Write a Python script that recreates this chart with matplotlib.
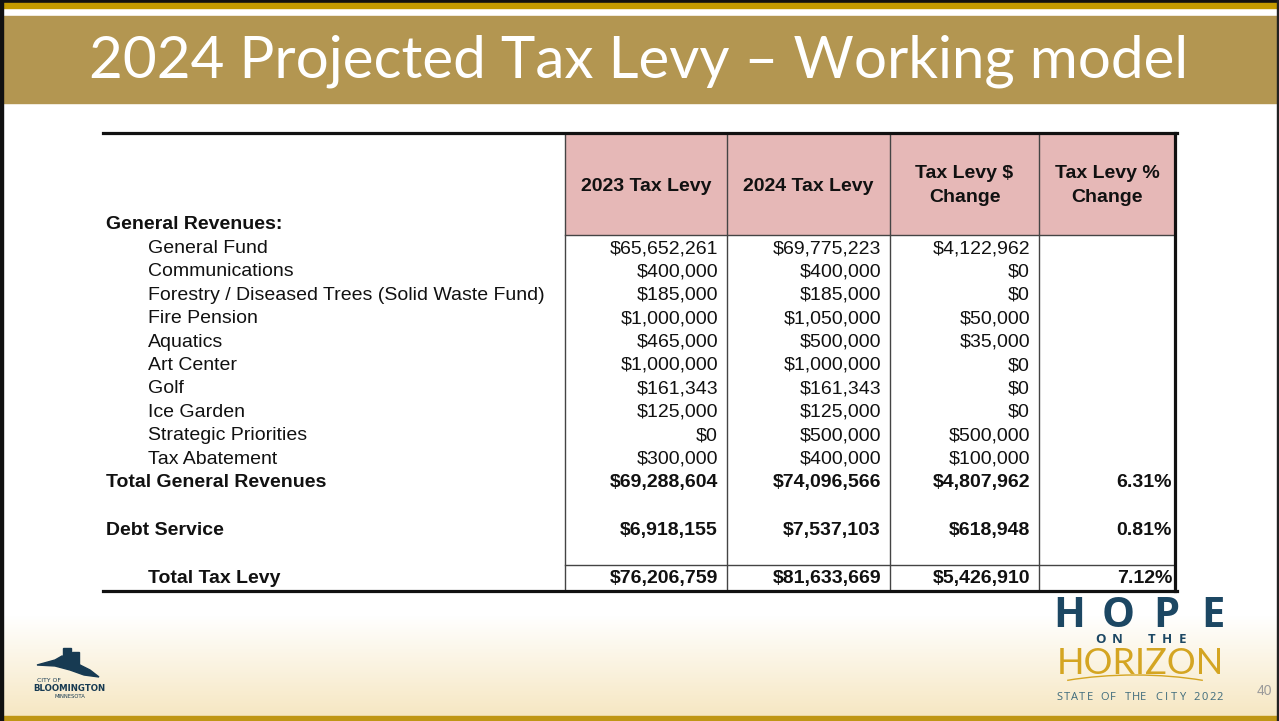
import numpy as np
import matplotlib.pyplot as plt
from matplotlib.patches import Rectangle, Polygon, Arc

# table contents
title = "2024 Projected Tax Levy \u2013 Working model"
col_headers = [["2023 Tax Levy"], ["2024 Tax Levy"], ["Tax Levy $", "Change"], ["Tax Levy %", "Change"]]
item_labels = ["General Fund", "Communications", "Forestry / Diseased Trees (Solid Waste Fund)",
               "Fire Pension", "Aquatics", "Art Center", "Golf", "Ice Garden",
               "Strategic Priorities", "Tax Abatement"]
levy_2023 = [65652261, 400000, 185000, 1000000, 465000, 1000000, 161343, 125000, 0, 300000]
levy_2024 = [69775223, 400000, 185000, 1050000, 500000, 1000000, 161343, 125000, 500000, 400000]
levy_change = [4122962, 0, 0, 50000, 35000, 0, 0, 0, 500000, 100000]

total_labels = ["Total General Revenues", "Debt Service", "Total Tax Levy"]
total_2023 = [69288604, 6918155, 76206759]
total_2024 = [74096566, 7537103, 81633669]
total_change = [4807962, 618948, 5426910]
total_pct = ["6.31%", "0.81%", "7.12%"]

W, H = 1279, 721
fig = plt.figure(figsize=(W / 100, H / 100), dpi=100)
ax = fig.add_axes([0, 0, 1, 1])
ax.set_xlim(0, W)
ax.set_ylim(H, 0)
ax.axis("off")

# slide background: white fading to cream at the bottom
grad = np.ones((H, 1, 3))
t = np.clip((np.arange(H) - 615) / (716 - 615), 0, 1)
cream = np.array([0.965, 0.905, 0.76])
grad[:, 0, :] = (1 - t)[:, None] * np.array([1, 1, 1]) + t[:, None] * cream
ax.imshow(grad, extent=[0, W, H, 0], aspect="auto", zorder=0)

# frame and title band
ax.add_patch(Rectangle((0, 0), W, 3, color="#111111", zorder=1))
ax.add_patch(Rectangle((0, 3), W, 5, color="#C49A00", zorder=1))
ax.add_patch(Rectangle((0, 16), W, 87, color="#B39651", zorder=1))
ax.add_patch(Rectangle((0, 716), W, 5, color="#BF9614", zorder=1))
ax.add_patch(Rectangle((0, 0), 3, H, color="#111111", zorder=2))
ax.add_patch(Rectangle((W - 2, 0), 2, H, color="#222222", zorder=2))
ax.text(89, 77, title, color="white", fontsize=42, family="Lato", va="baseline", ha="left")

# table geometry
col_x = [565, 727, 890, 1039, 1175]
right_x = [718, 881, 1030, 1172]
top_y, head_bot, bot_y = 133, 235, 591
row_base = [253 + 23.4 * i for i in range(len(item_labels))]
total_base = [487, 535, 583]
font = dict(family="Liberation Sans", fontsize=14, color="#111111", va="baseline")

ax.add_patch(Rectangle((col_x[0], top_y), col_x[-1] - col_x[0], head_bot - top_y,
                       facecolor="#E6B8B7", edgecolor="none", zorder=2))
for x in col_x[:-1]:
    ax.plot([x, x], [top_y, bot_y], color="#444444", lw=1.0, zorder=3)
ax.plot([col_x[-1], col_x[-1]], [top_y, bot_y], color="#111111", lw=2.3, zorder=4)
ax.plot([col_x[0], col_x[-1]], [head_bot, head_bot], color="#444444", lw=1.0, zorder=3)
ax.plot([col_x[0], col_x[-1]], [565, 565], color="#444444", lw=1.0, zorder=3)
ax.plot([103, 1177], [top_y, top_y], color="#111111", lw=2.3, zorder=4)
ax.plot([103, 1177], [bot_y, bot_y], color="#111111", lw=2.3, zorder=4)

# header
for i, lines in enumerate(col_headers):
    cx = (col_x[i] + col_x[i + 1]) / 2
    if len(lines) == 1:
        ax.text(cx, 191, lines[0], ha="center", fontweight="bold", **font)
    else:
        ax.text(cx, 178, lines[0], ha="center", fontweight="bold", **font)
        ax.text(cx, 202, lines[1], ha="center", fontweight="bold", **font)
ax.text(106, 229, "General Revenues:", ha="left", fontweight="bold", **font)

def money(v):
    return f"${v:,.0f}"

# body rows
for i, lab in enumerate(item_labels):
    y = row_base[i]
    ax.text(148, y, lab, ha="left", **font)
    for j, v in enumerate([levy_2023[i], levy_2024[i], levy_change[i]]):
        ax.text(right_x[j], y, money(v), ha="right", **font)

for i, lab in enumerate(total_labels):
    y = total_base[i]
    ax.text(148 if i == 2 else 106, y, lab, ha="left", fontweight="bold", **font)
    for j, v in enumerate([total_2023[i], total_2024[i], total_change[i]]):
        ax.text(right_x[j], y, money(v), ha="right", fontweight="bold", **font)
    ax.text(right_x[3], y, total_pct[i], ha="right", fontweight="bold", **font)

# Bloomington logo (rough)
navy = "#173A52"
ax.add_patch(Polygon([[37, 665], [55, 660], [62, 656], [70, 658], [78, 664], [90, 670],
                      [99, 677], [84, 675], [70, 670], [55, 666]], closed=True, color=navy, zorder=3))
ax.add_patch(Rectangle((63, 648), 8, 16, color=navy, zorder=3))
ax.add_patch(Rectangle((72, 652), 7, 14, color=navy, zorder=3))
ax.text(49, 680, "CITY OF", fontsize=4.4, color=navy, family="DejaVu Sans", ha="center", va="center")
ax.text(69, 688.5, "BLOOMINGTON", fontsize=6.2, color=navy, family="DejaVu Sans",
        fontweight="bold", ha="center", va="center")
ax.text(70, 697, "MINNESOTA", fontsize=3.8, color=navy, family="DejaVu Sans", ha="center", va="center")

# Hope on the Horizon logo
hope_navy = "#1C4763"
gold = "#D4A522"
for ch, x in zip("HOPE", [1069, 1118, 1166, 1213]):
    ax.text(x, 627, ch, fontsize=30, color=hope_navy, family="Open Sans", fontweight="bold",
            ha="center", va="baseline")
for ch, x in zip("ONTHE", [1101, 1117, 1152, 1167, 1182]):
    ax.text(x, 643, ch, fontsize=9.5, color=hope_navy, family="Open Sans", fontweight="bold",
            ha="center", va="baseline")
ax.add_patch(Arc((1135, 718), 280, 86, theta1=209, theta2=331, color=gold, lw=1.0, zorder=3))
ax.text(1140, 674, "HORIZON", fontsize=26, color=gold, family="Lato",
        ha="center", va="baseline", zorder=4)
state = "STATE OF THE CITY 2022"
for ch, x in zip(state, np.linspace(1059, 1220, len(state))):
    ax.text(x, 700, ch, fontsize=8, color="#3E6B7C", family="Open Sans", ha="center", va="baseline")
ax.text(1264, 695, "40", fontsize=10, color="#9A9A9A", family="Liberation Sans", ha="center", va="baseline")

fig.savefig("out.png", dpi=100)
